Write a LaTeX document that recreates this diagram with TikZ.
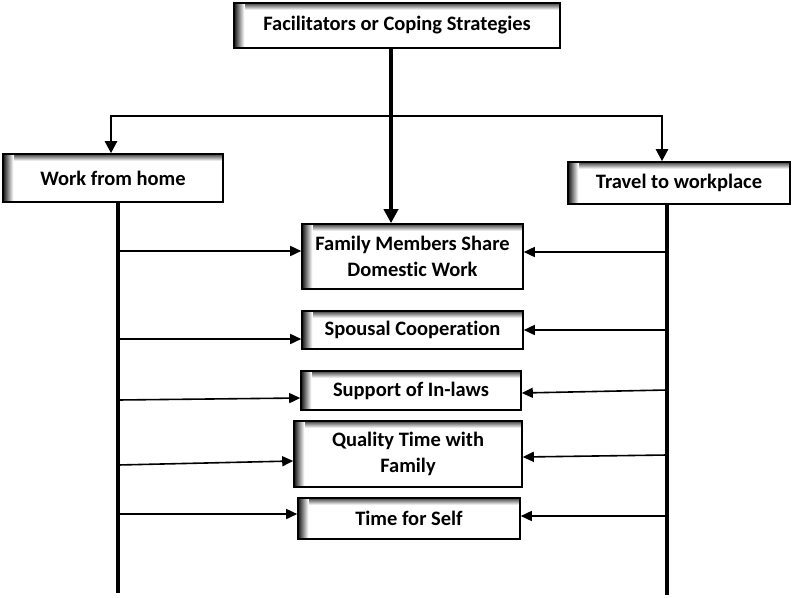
\documentclass[tikz,border=0pt]{standalone}
\usepackage{fontspec}
\setmainfont{Carlito}[Ligatures=NoCommon]
\usetikzlibrary{arrows.meta}
\tikzset{
  inshadow/.style={path picture={
    \foreach \i in {0,...,6}{
      \pgfmathtruncatemacro\shd{75-\i*11}
      \fill[black!\shd] ([yshift=-\i pt]path picture bounding box.north west) rectangle ([yshift=-\i pt-1.05pt]path picture bounding box.north east);
    }
    \foreach \i in {0,...,10}{
      \pgfmathtruncatemacro\shd{92-\i*9}
      \fill[black!\shd] ([xshift=\i pt]path picture bounding box.north west) rectangle ([xshift=\i pt+1.05pt]path picture bounding box.south west);
    }
  }},
  box/.style={draw, line width=1.6pt, fill=white, inshadow, align=center, inner sep=0pt,
    font=\bfseries\fontsize{20.5}{26}\selectfont},
  arr/.style={line width=1.6pt, -{Triangle[length=11pt,width=10pt]}},
  bigarr/.style={line width=4pt, -{Triangle[length=14pt,width=14pt]}},
  midline/.style={line width=2.4pt},
  vline/.style={line width=4pt},
}
\begin{document}
\begin{tikzpicture}[x=1pt,y=-1pt]
\useasboundingbox[fill=white] (0,0) rectangle (794,597);

\node[box, minimum width=326pt, minimum height=45pt] (top) at (397,25.5) {Facilitators or Coping Strategies};
\node[box, minimum width=220pt, minimum height=48pt] (work) at (113,178) {Work from home};
\node[box, minimum width=222pt, minimum height=42pt] (travel) at (679,183) {Travel to workplace};
\node[box, minimum width=221pt, minimum height=65pt] (fam) at (412.5,256.5) {Family Members Share\\Domestic Work};
\node[box, minimum width=221pt, minimum height=38pt] (spo) at (412.5,330) {Spousal Cooperation};
\node[box, minimum width=220pt, minimum height=39pt] (sup) at (411,390.5) {Support of In-laws};
\node[box, minimum width=228pt, minimum height=66pt] (qual) at (408,454) {Quality Time with\\Family};
\node[box, minimum width=222pt, minimum height=41pt] (self) at (409,518.5) {Time for Self};

% top connectors
\coordinate (tv) at (391,49);
\coordinate (hl) at (111,116);
\coordinate (hr) at (662,116);
\draw[bigarr] (tv) -- (tv |- fam.north);
\draw[midline, {Triangle[length=12pt,width=12pt]}-{Triangle[length=12pt,width=12pt]}]
  (hl |- work.north) -- (hl) -- (hr) -- (hr |- travel.north);

% side lines
\coordinate (lvb) at (118,593);
\coordinate (rvb) at (667,595);
\draw[vline] (lvb |- work.south) -- (lvb);
\draw[vline] (rvb |- travel.south) -- (rvb);

% left arrows
\coordinate (l1) at (118,251);
\coordinate (l2) at (118,339);
\coordinate (l3) at (118,400);
\coordinate (l4) at (118,465);
\coordinate (l5) at (118,514);
\draw[arr] (l1) -- (fam.west |- l1);
\draw[arr] (l2) -- (spo.west |- l2);
\draw[arr] (l3) -- ([yshift=-7.5pt]sup.west);
\draw[arr] (l4) -- ([yshift=-7pt]qual.west);
\draw[arr] (l5) -- (self.west |- l5);

% right arrows
\coordinate (r1) at (667,252);
\coordinate (r2) at (667,330);
\coordinate (r3) at (667,390);
\coordinate (r4) at (667,455);
\coordinate (r5) at (667,516);
\draw[arr] (r1) -- (fam.east |- r1);
\draw[arr] (r2) -- (spo.east |- r2);
\draw[arr] (r3) -- ([yshift=-2.5pt]sup.east);
\draw[arr] (r4) -- ([yshift=-3pt]qual.east);
\draw[arr] (r5) -- (self.east |- r5);
\end{tikzpicture}
\end{document}
